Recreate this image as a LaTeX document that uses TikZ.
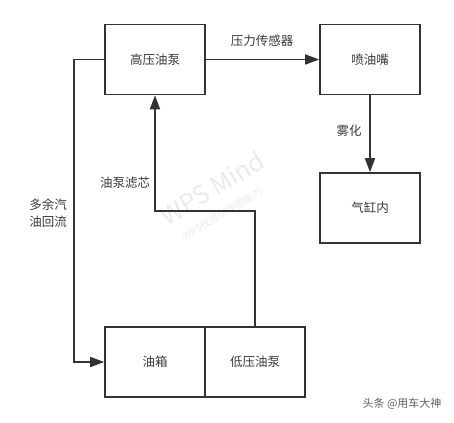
\documentclass[tikz,border=0pt]{standalone}
\usepackage{fontspec}
\setmainfont{Noto Sans CJK SC}
\usetikzlibrary{arrows.meta}
\definecolor{linec}{HTML}{333333}
\definecolor{textc}{HTML}{3A3A3A}
\definecolor{wmc}{HTML}{EBEBEB}
\begin{document}
\begin{tikzpicture}[x=1pt,y=-1pt,
  box/.style={draw=linec, line width=1.6pt, minimum width=100pt, minimum height=70pt, inner sep=0pt, text=textc, font=\fontsize{12.5}{15}\selectfont},
  conn/.style={draw=linec, line width=1.6pt, -{Triangle[length=14pt,width=10pt]}},
  lbl/.style={text=textc, inner sep=0pt, align=center, font=\fontsize{12.5}{17}\selectfont}]
\useasboundingbox (0,0) rectangle (454,422);
\fill[white] (0,0) rectangle (454,422);
% watermark
\node[rotate=31, text=wmc, font=\fontsize{25}{28}\selectfont] (wm1) at (212,188) {WPS Mind};
\node[rotate=31, text=wmc, font=\fontsize{10}{12}\selectfont] (wm2) at (222,214) {WPS仅提供作图能力};
% boxes
\node[box] (hp) at (155,59.5) {高压油泵};
\node[box] (inj) at (370,59.5) {喷油嘴};
\node[box] (cyl) at (370,208) {气缸内};
\node[box] (tank) at (155,362) {油箱};
\node[box] (lp) at (255,362) {低压油泵};
% connectors
\draw[conn] (hp.east) -- (inj.west);
\draw[conn] (inj.south) -- (cyl.north);
\draw[conn] (hp.west) -- ++(-30,0) |- (tank.west);
\coordinate (bend) at (155,211);
\draw[conn] (lp.north) |- (bend) -- (hp.south);
% labels
\node[lbl] (l1) at (262,41) {压力传感器};
\node[lbl] (l2) at (349,131) {雾化};
\node[lbl] (l3) at (48,213) {多余汽\\油回流};
\node[lbl] (l4) at (125,183) {油泵滤芯};
% credit
\node[text=textc!80, inner sep=0pt, font=\fontsize{11}{13}\selectfont] (cr) at (402,404) {头条 @用车大神};
\end{tikzpicture}
\end{document}
